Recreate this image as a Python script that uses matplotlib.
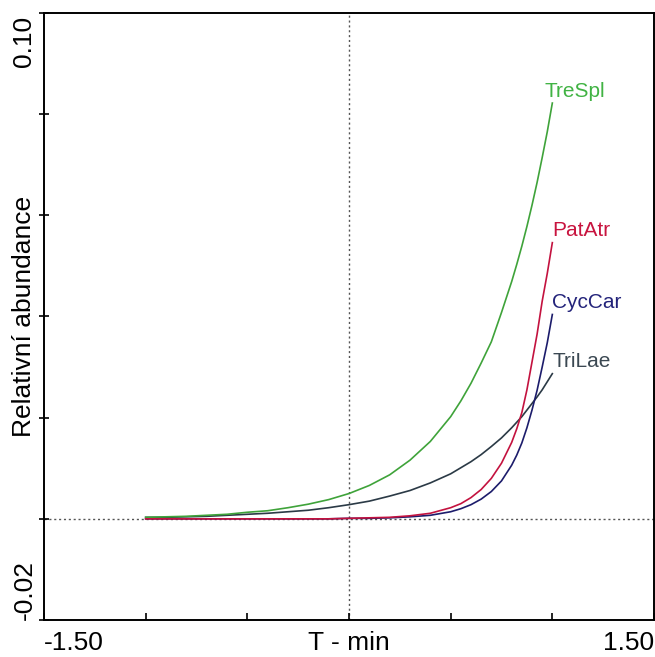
import matplotlib.pyplot as plt
import matplotlib.transforms as mtransforms

plt.rcParams['font.family'] = ['Liberation Sans', 'DejaVu Sans']

# =============================================================================
# data
# =============================================================================
t_min = [-1.0, -0.9, -0.8, -0.7, -0.6, -0.5, -0.4, -0.3, -0.2, -0.1, 0.0,
         0.1, 0.2, 0.3, 0.4, 0.5, 0.55, 0.6, 0.65, 0.7, 0.75, 0.8, 0.825,
         0.85, 0.875, 0.9, 0.925, 0.95, 0.975, 1.0]

tre_spl = [0.0003, 0.0004, 0.0005, 0.0007, 0.0009, 0.0013, 0.0016, 0.0022,
           0.0029, 0.0038, 0.0050, 0.0066, 0.0087, 0.0116, 0.0153, 0.0202,
           0.0233, 0.0268, 0.0308, 0.0350, 0.0408, 0.0469, 0.0503, 0.0539,
           0.0578, 0.0620, 0.0665, 0.0714, 0.0765, 0.0822]

tri_lae = [0.0003, 0.0003, 0.0004, 0.0005, 0.0007, 0.0009, 0.0011, 0.0014,
           0.0017, 0.0022, 0.0028, 0.0035, 0.0045, 0.0056, 0.0071, 0.0089,
           0.0101, 0.0113, 0.0127, 0.0143, 0.0160, 0.0180, 0.0191, 0.0202,
           0.0215, 0.0228, 0.0241, 0.0255, 0.0271, 0.0287]

cyc_car = [0.0, 0.0, 0.0, 0.0, 0.0, 0.0, 0.0, 0.0, 0.0, 0.0, 0.0001,
           0.0001, 0.0002, 0.0004, 0.0007, 0.0014, 0.0020, 0.0028, 0.0039,
           0.0054, 0.0075, 0.0106, 0.0126, 0.0150, 0.0180, 0.0215, 0.0254,
           0.0300, 0.0348, 0.0404]

pat_atr = [0.0, 0.0, 0.0, 0.0, 0.0, 0.0, 0.0, 0.0, 0.0, 0.0, 0.0001,
           0.0002, 0.0003, 0.0006, 0.0011, 0.0022, 0.0030, 0.0042, 0.0058,
           0.0080, 0.0110, 0.0151, 0.0178, 0.0210, 0.0255, 0.0310, 0.0365,
           0.0430, 0.0485, 0.0546]

species = ['TriLae', 'TreSpl', 'CycCar', 'PatAtr']
colors = ['#2b3a46', '#3fa33a', '#1c1c6b', '#c3123f']
label_colors = ['#3b4852', '#41b344', '#23237a', '#c8143f']

x_ticks = [-1.5, -1.0, -0.5, 0.0, 0.5, 1.0, 1.5]
y_ticks = [-0.02, 0.0, 0.02, 0.04, 0.06, 0.08, 0.10]

# =============================================================================
# figure
# =============================================================================
fig = plt.figure(figsize=(6.55, 6.57), dpi=100, facecolor='white')
ax = fig.add_axes([44 / 655, 1 - 620 / 657, 610 / 655, 607 / 657])
ax.set_xlim(-1.5, 1.5)
ax.set_ylim(-0.02, 0.10)

# reference lines through the origin
ax.axhline(0, color='#555555', linestyle=(0, (1.5, 2)), linewidth=1.0, zorder=1)
ax.axvline(0, color='#555555', linestyle=(0, (1.5, 2)), linewidth=1.0, zorder=1)

# response curves
series = [tri_lae, tre_spl, cyc_car, pat_atr]
for name, vals, col, lcol in zip(species, series, colors, label_colors):
    ax.plot(t_min, vals, color=col, linewidth=1.2, zorder=3)
    dx = -0.04 if name == 'TreSpl' else 0.0
    ax.text(t_min[-1] + dx, vals[-1] + 0.0005, name, fontsize=15,
            color=lcol, ha='left', va='bottom')

# axes frame and ticks
for s in ax.spines.values():
    s.set_linewidth(1.4)
ax.set_xticks(x_ticks)
ax.set_yticks(y_ticks)
ax.set_xticklabels([])
ax.set_yticklabels([])
ax.tick_params(axis='x', direction='in', length=5, width=1.2)
ax.tick_params(axis='y', direction='inout', length=7, width=1.2)

# end labels on the axes
tx = mtransforms.blended_transform_factory(ax.transData, ax.transAxes)
ty = mtransforms.blended_transform_factory(ax.transAxes, ax.transData)
ax.text(-1.5, -0.018, '-1.50', transform=tx, fontsize=19, ha='left', va='top')
ax.text(1.5, -0.018, '1.50', transform=tx, fontsize=19, ha='right', va='top')
ax.text(0.0, -0.018, 'T - min', transform=tx, fontsize=19, ha='center', va='top')

ax.text(-0.032, 0.0995, '0.10', transform=ty, fontsize=19, rotation=90,
        ha='center', va='top')
ax.text(-0.032, -0.02, '-0.02', transform=ty, fontsize=19, rotation=90,
        ha='center', va='bottom')
ax.text(-0.032, 0.04, 'Relativní abundance', transform=ty, fontsize=19,
        rotation=90, ha='center', va='center')

plt.savefig('out.png', dpi=100, facecolor='white')
plt.close()
